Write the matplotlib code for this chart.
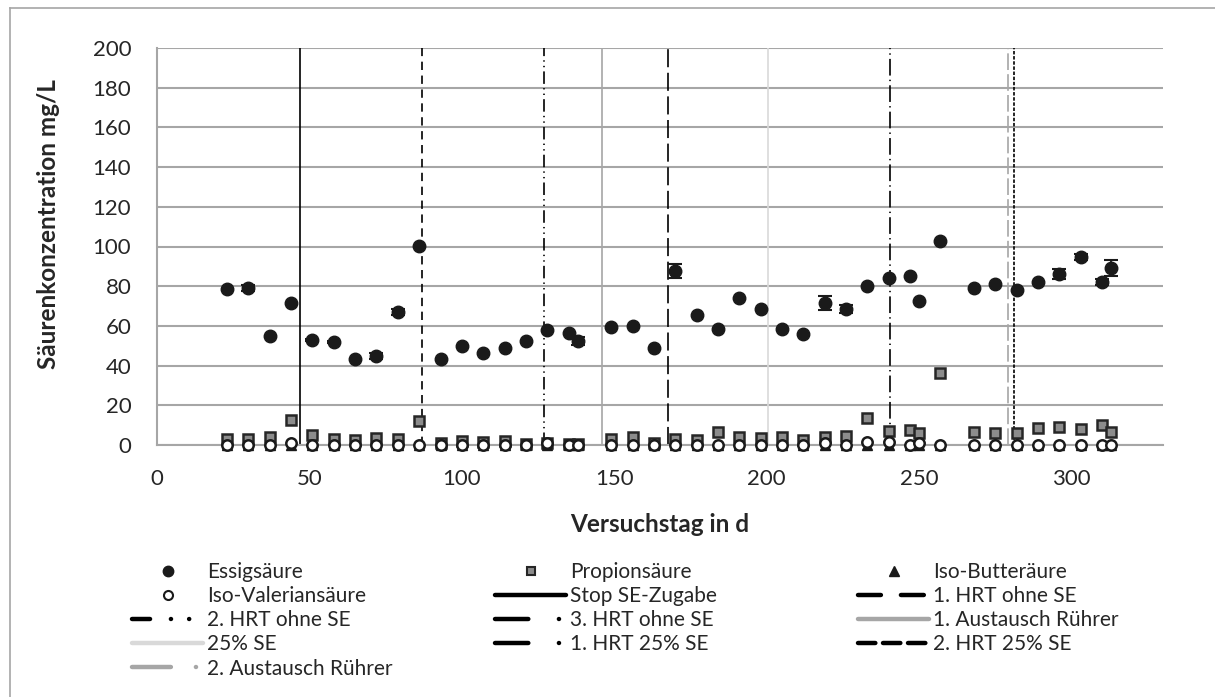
import numpy as np
import matplotlib
matplotlib.use("Agg")
import matplotlib.pyplot as plt
from matplotlib.lines import Line2D

plt.rcParams['font.family'] = ['Lato', 'DejaVu Sans']
plt.rcParams['lines.scale_dashes'] = False

# ---------------- data ----------------
days = [23, 30, 37, 44, 51, 58, 65, 72, 79, 86, 93, 100, 107, 114, 121, 128, 135, 138,
        149, 156, 163, 170, 177, 184, 191, 198, 205, 212, 219, 226, 233, 240, 247, 250,
        257, 268, 275, 282, 289, 296, 303, 310, 313]
essig = [78.5, 79, 55, 71.5, 53, 52, 43.5, 45, 67, 100.5, 43.5, 50, 46.5, 49, 52.5, 58,
         56.5, 52.5, 59.5, 60, 49, 87.5, 65.5, 58.5, 74, 68.5, 58.5, 56, 71.5, 68.5, 80,
         84, 85, 72.5, 103, 79, 81, 78, 82, 86, 94.5, 82, 89]
essig_err = [0, 1.5, 0, 0, 0.5, 0.5, 0, 1.5, 1.5, 0, 0, 0, 0, 0, 0, 0, 0, 2, 0, 0, 0,
             3.5, 0, 0, 0, 0, 0, 0, 3.5, 2, 0, 0, 0, 0, 0, 0, 0, 0, 0, 2.5, 1.5, 1.5, 4]
propion = [3, 3, 4.2, 12.5, 5, 3, 2.6, 3.7, 3, 12, 1, 2, 1.5, 1.8, 0.5, 0.8, 0.5, 0.5,
           3, 3.9, 1.2, 3, 2.6, 6.5, 3.9, 3.6, 3.9, 2.6, 3.9, 4.5, 13.5, 7, 7.5, 6, 36.5,
           6.5, 6, 5.8, 8.6, 9.3, 8, 10, 6.3]
isobutter = [0] * len(days)
isovalerian = [0, 0, 0, 0.8, 0, 0, 0, 0, 0, 0, 0, 0, 0, 0, 0, 0.8, 0, 0,
               0, 0, 0, 0, 0, 0, 0, 0, 0, 0, 1.0, 0, 1.5, 1.5, 0, 1.2, 0,
               0, 0, 0, 0, 0, 0, 0, 0]

event_labels = ["Stop SE-Zugabe", "1. HRT ohne SE", "2. HRT ohne SE", "3. HRT ohne SE",
                "1. Austausch Rührer", "25% SE", "1. HRT 25% SE", "2. HRT 25% SE",
                "2. Austausch Rührer"]
event_days = [47, 87, 127, 167.5, 146, 200.5, 240.5, 281, 279]

series_labels = ["Essigsäure", "Propionsäure", "Iso-Butteräure", "Iso-Valeriansäure"]
x_label = "Versuchstag in d"
y_label = "Säurenkonzentration mg/L"

# ---------------- styles ----------------
GRID = '#a6a6a6'
TXT = '#262626'
ev_style = {
    "Stop SE-Zugabe": dict(color='black', ls='-'),
    "1. HRT ohne SE": dict(color='black', ls=(0, (6, 4))),
    "2. HRT ohne SE": dict(color='black', ls=(0, (9, 3, 1, 3, 1, 3))),
    "3. HRT ohne SE": dict(color='black', ls=(0, (13, 4))),
    "1. Austausch Rührer": dict(color='#a6a6a6', ls='-'),
    "25% SE": dict(color='#d9d9d9', ls='-'),
    "1. HRT 25% SE": dict(color='black', ls=(0, (12, 3, 1, 3))),
    "2. HRT 25% SE": dict(color='black', ls=(0, (2.5, 1.2))),
    "2. Austausch Rührer": dict(color='#a6a6a6', ls=(0, (12, 3))),
}
leg_ls = {
    "Stop SE-Zugabe": '-',
    "1. HRT ohne SE": (0, (16.5, 14.4)),
    "2. HRT ohne SE": (0, (13, 15, 0.1, 13, 0.1, 60)),
    "3. HRT ohne SE": (0, (24, 22, 0.1, 60)),
    "1. Austausch Rührer": '-',
    "25% SE": '-',
    "1. HRT 25% SE": (0, (24, 22, 0.1, 60)),
    "2. HRT 25% SE": (0, (12.5, 5.5)),
    "2. Austausch Rührer": (0, (28, 18, 0.1, 60)),
}

fig = plt.figure(figsize=(12.15, 6.97), dpi=100)
ax = fig.add_axes([157 / 1215, 1 - 445 / 697, (1163 - 157) / 1215, (445 - 48) / 697])

ax.set_xlim(0, 330)
ax.set_ylim(0, 200)
ax.set_xticks(np.arange(0, 301, 50))
ax.set_yticks(np.arange(0, 201, 20))
ax.yaxis.grid(True, color=GRID, lw=1.5)
ax.set_axisbelow(True)
for s in ['top', 'right']:
    ax.spines[s].set_visible(False)
for s in ['left', 'bottom']:
    ax.spines[s].set_color(GRID)
    ax.spines[s].set_linewidth(1.5)
ax.tick_params(axis='both', length=0, labelsize=16, colors=TXT)
ax.tick_params(axis='x', pad=17)
ax.tick_params(axis='y', pad=18.5)

# event lines
for lab, d in zip(event_labels, event_days):
    st = ev_style[lab]
    ax.axvline(d, color=st['color'], ls=st['ls'], lw=1.2, zorder=2)

# data series
ax.plot(days, essig, 'o', color='#1a1a1a', ms=9, zorder=4, clip_on=False)
e_days = [d for d, e in zip(days, essig_err) if e > 0]
e_vals = [v for v, e in zip(essig, essig_err) if e > 0]
e_errs = [e for e in essig_err if e > 0]
ax.errorbar(e_days, e_vals, yerr=e_errs, fmt='none', ecolor='#1a1a1a', elinewidth=1.3,
            capsize=5, capthick=1.5, zorder=4)
ax.plot(days, propion, 's', mfc='#8c8c8c', mec='#262626', mew=1.8, ms=7.5, zorder=5,
        clip_on=False)
ax.plot(days, isobutter, '^', color='#1a1a1a', ms=7, zorder=5, clip_on=False)
ax.plot(days, isovalerian, 'o', mfc='white', mec='#1a1a1a', mew=1.8, ms=7.5, zorder=6,
        clip_on=False)

ax.set_xlabel(x_label, fontsize=17.5, fontweight='bold', color=TXT, va='center')
ax.xaxis.set_label_coords(0.5, (445 - 524) / 397)
ax.set_ylabel(y_label, fontsize=17.5, fontweight='bold', color=TXT, va='center')
ax.yaxis.set_label_coords((49 - 157) / 1006, (445 - 224) / 397)

# legend handles
h_essig = Line2D([], [], ls='none', marker='o', color='#1a1a1a', ms=7.5)
h_prop = Line2D([], [], ls='none', marker='s', mfc='#8c8c8c', mec='#262626', mew=1.5, ms=6)
h_but = Line2D([], [], ls='none', marker='^', color='#1a1a1a', ms=7)
h_val = Line2D([], [], ls='none', marker='o', mfc='white', mec='#1a1a1a', mew=1.5, ms=6.5)
ev_h = {lab: Line2D([], [], color=ev_style[lab]['color'], ls=leg_ls[lab], lw=3.2,
                    dash_capstyle='round', solid_capstyle='round')
        for lab in event_labels}
handles = {series_labels[0]: h_essig, series_labels[1]: h_prop,
           series_labels[2]: h_but, series_labels[3]: h_val}
handles.update(ev_h)

order = series_labels + event_labels
cols = [order[0::3], order[1::3], order[2::3]]
col_x = [132, 495, 858]
FS_LEG = 15
hl = 71 / (FS_LEG * 100 / 72)
for labs, cx in zip(cols, col_x):
    leg = fig.legend([handles[l] for l in labs], labs, loc='upper left',
                     bbox_to_anchor=(cx / 1215, 1 - 562 / 697), frameon=False,
                     fontsize=FS_LEG, handlelength=hl, handletextpad=0.2,
                     labelspacing=0.2, borderpad=0, borderaxespad=0, numpoints=1)
    for t in leg.get_texts():
        t.set_color(TXT)

# chart-area border (left and top edges)
fig.add_artist(Line2D([10 / 1215, 10 / 1215], [0, 1 - 8 / 697], color='#a6a6a6', lw=1.2))
fig.add_artist(Line2D([10 / 1215, 1], [1 - 8 / 697, 1 - 8 / 697], color='#a6a6a6', lw=1.2))

fig.savefig('out.png', dpi=100)
